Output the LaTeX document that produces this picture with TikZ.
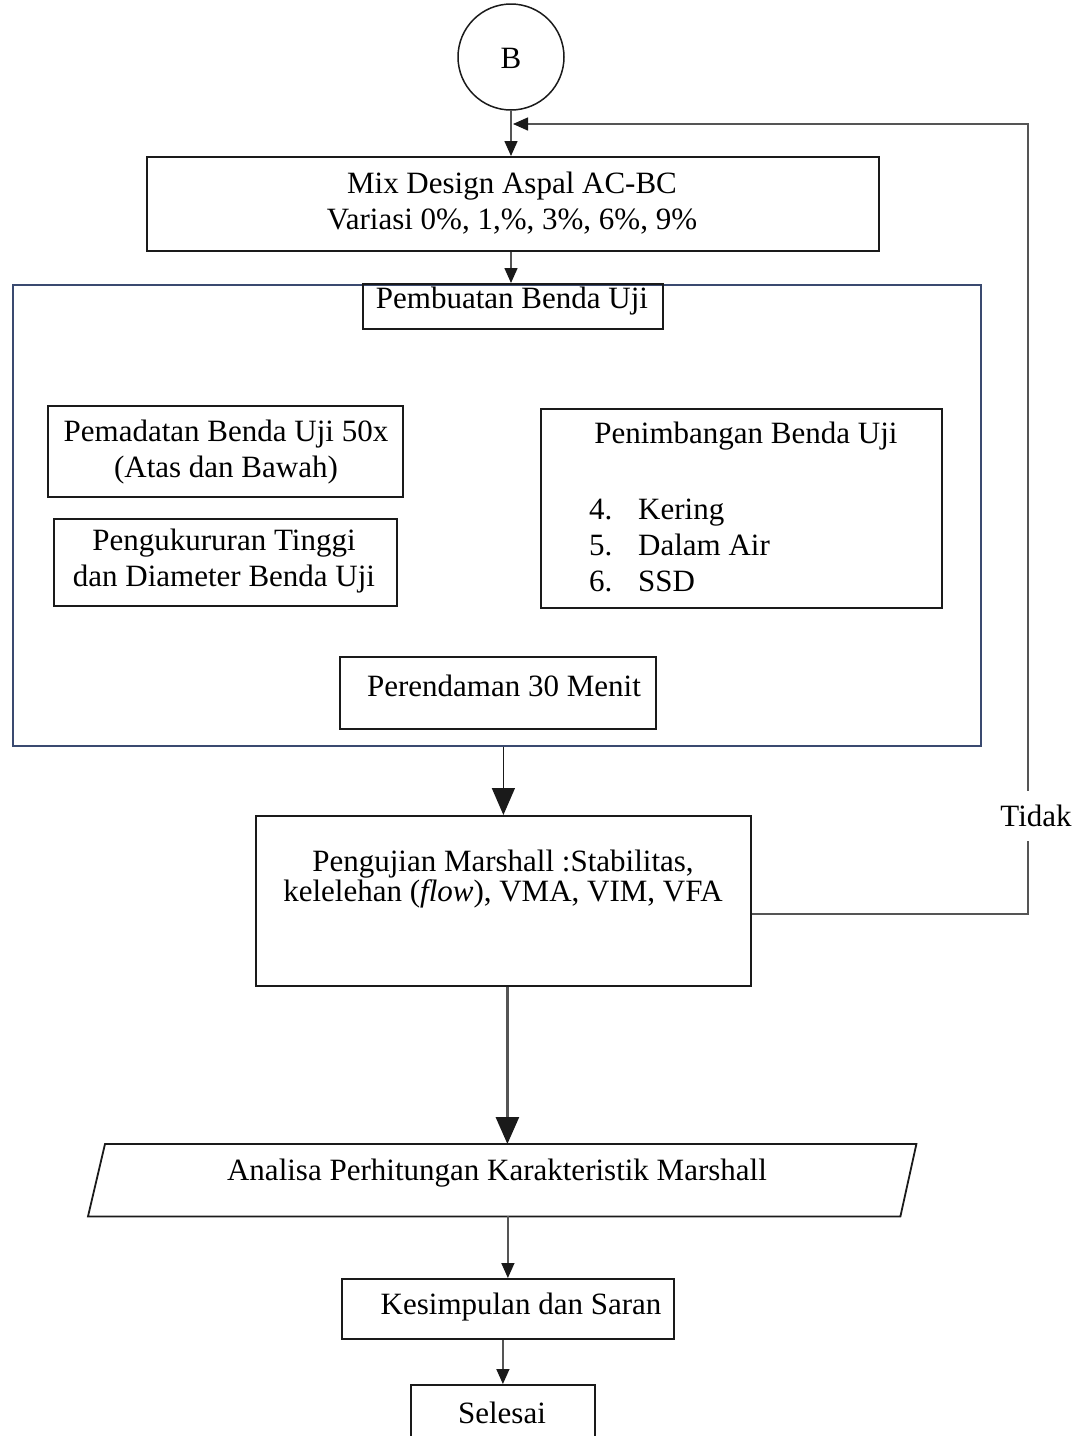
\documentclass[tikz,border=0pt]{standalone}
\usepackage{fontspec}
\setmainfont{Liberation Serif}
\usetikzlibrary{arrows.meta}
\definecolor{boxc}{HTML}{1A1A1A}
\definecolor{linec}{HTML}{555555}
\definecolor{outerc}{HTML}{3A4A70}
\begin{document}
\begin{tikzpicture}[x=1pt,y=-1pt,
  box/.style={draw=boxc,line width=1.8pt,inner sep=0pt,anchor=north west},
  txt/.style={inner sep=0pt,align=center,font=\fontsize{31}{36}\selectfont},
  conn/.style={draw=linec,line width=1.5pt},
  tipS/.style={-{Triangle[width=13pt,length=15pt,color=boxc]}},
  tipL/.style={-{Triangle[width=23pt,length=27pt,color=boxc]}},
]
\useasboundingbox (0,0) rectangle (1087,1436);
\clip (0,0) rectangle (1087,1436);

% start connector
\node[draw=boxc,line width=1.5pt,circle,minimum size=106pt,inner sep=0pt] (B) at (511,57) {};
\node[txt] (tB) at (511,58) {B};

% Mix design
\node[box,minimum width=732pt,minimum height=94pt] (mix) at (146,156) {};
\node[txt] (tmix) at (512,203) {Mix Design Aspal AC-BC\\Variasi 0\%, 1,\%, 3\%, 6\%, 9\%};

% outer frame
\node[box,draw=outerc,line width=1.6pt,minimum width=968pt,minimum height=461pt] (outer) at (12,284) {};
\node[box,minimum width=300pt,minimum height=45pt] (pemb) at (362,283) {};
\node[txt] (tpemb) at (512,301) {Pembuatan Benda Uji};

\node[box,minimum width=355pt,minimum height=91pt] (pemad) at (47,405) {};
\node[txt] (tpemad) at (226,452) {Pemadatan Benda Uji 50x\\(Atas dan Bawah)};

\node[box,minimum width=343pt,minimum height=87pt] (ukur) at (53,518) {};
\node[txt] (tukur) at (224,561) {Pengukururan Tinggi\\dan Diameter Benda Uji};

\node[box,minimum width=401pt,minimum height=199pt] (timb) at (540,408) {};
\node[txt] (ttimb) at (746,436) {Penimbangan Benda Uji};
\node[txt,anchor=base west] (n4) at (589,519) {4.};
\node[txt,anchor=base west] (k4) at (638,519) {Kering};
\node[txt,anchor=base west] (n5) at (589,555) {5.};
\node[txt,anchor=base west] (k5) at (638,555) {Dalam Air};
\node[txt,anchor=base west] (n6) at (589,591) {6.};
\node[txt,anchor=base west] (k6) at (638,591) {SSD};

\node[box,minimum width=316pt,minimum height=72pt] (rend) at (339,656) {};
\node[txt] (trend) at (504,686) {Perendaman 30 Menit};

% Marshall test
\node[box,minimum width=495pt,minimum height=170pt] (peng) at (255,815) {};
\node[txt,font=\fontsize{31}{27}\selectfont] (tpeng) at (503,879) {Pengujian Marshall :Stabilitas,\\kelelehan (\textit{flow}), VMA, VIM, VFA};

% parallelogram
\node[inner sep=0pt,anchor=north west,minimum width=828pt,minimum height=72pt] (para) at (88,1144) {};
\draw[draw=boxc,line width=1.8pt] ([xshift=17pt]para.north west) -- (para.north east) -- ([xshift=-16pt]para.south east) -- (para.south west) -- cycle;
\node[txt] (tpara) at (497,1173) {Analisa Perhitungan Karakteristik Marshall};

\node[box,minimum width=332pt,minimum height=60pt] (kes) at (341,1278) {};
\node[txt] (tkes) at (521,1307) {Kesimpulan dan Saran};

\node[box,minimum width=184pt,minimum height=70pt] (sel) at (410,1384) {};
\node[txt] (tsel) at (502,1413) {Selesai};

% connectors
\draw[conn,tipS] (B.south) -- (B.south |- mix.north);
\draw[conn,tipS] (B.south |- mix.south) -- (B.south |- pemb.north);
\draw[draw=boxc,line width=1.4pt,tipL] (peng.north |- outer.south) -- (peng.north);
\draw[conn,line width=2.8pt,tipL] ([xshift=4pt]peng.south) -- ([xshift=4pt]peng.south |- para.north);
\draw[conn,tipS] (kes.north |- para.south) -- (kes.north);
\draw[conn,tipS] (sel.north |- kes.south) -- (sel.north);

% loop back
\coordinate (loopR) at (1028,124);
\coordinate (loopEnd) at (513,124);
\draw[conn,tipS] ([yshift=-13pt]peng.east) -| (loopR) -- (loopEnd);
\node[txt,fill=white,minimum height=50pt] (tidak) at (1036,816) {Tidak};
\end{tikzpicture}
\end{document}
